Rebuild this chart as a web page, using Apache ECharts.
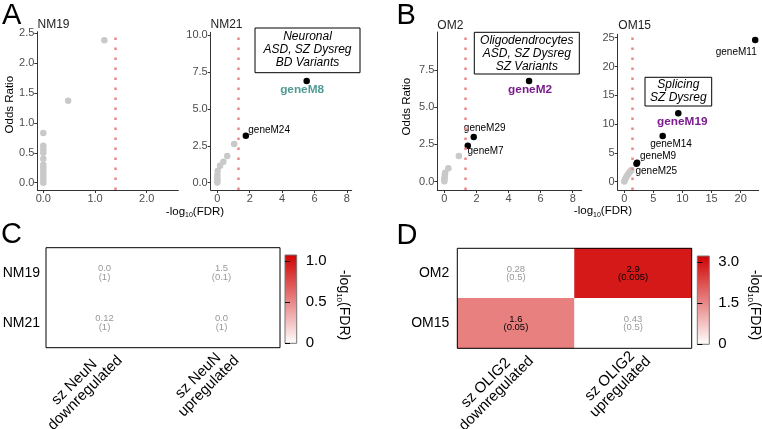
<!DOCTYPE html>
<html><head><meta charset="utf-8">
<script src="https://cdn.jsdelivr.net/npm/echarts@6/dist/echarts.min.js"></script>
<style>html,body{margin:0;padding:0;background:#fff}#c{width:762px;height:429px}</style>
</head><body><div id="c"></div>
<script>
const FONT = '"Liberation Sans", Arial, Helvetica, sans-serif';

// ---------- Panel A: NM19 ----------
const nm19Fdr  = [1.18, 0.48, 0, 0, 0, 0, 0, 0, 0, 0, 0, 0, 0, 0];
const nm19Or   = [2.38, 1.37, 0.83, 0.62, 0.56, 0.5, 0.4, 0.3, 0.25, 0.2, 0.15, 0.1, 0.05, 0.0];
const nm19Gene = ['', '', '', '', '', '', '', '', '', '', '', '', '', ''];
const nm19XTicks = [0, 1, 2];
const nm19YTicks = [0, 0.5, 1, 1.5, 2, 2.5];

// ---------- Panel A: NM21 ----------
const nm21Fdr  = [5.52, 1.76, 1.04, 0.61, 0.37, 0.17, 0.02, 0.0, 0.0, 0.0, 0.0];
const nm21Or   = [6.88, 3.18, 2.62, 1.81, 1.42, 1.15, 0.8, 0.5, 0.3, 0.15, 0.02];
const nm21Gene = ['geneM8', 'geneM24', '', '', '', '', '', '', '', '', ''];
const nm21XTicks = [0, 2, 4, 6, 8];
const nm21YTicks = [0, 2.5, 5, 7.5, 10];

// ---------- Panel B: OM2 ----------
const om2Fdr  = [5.28, 1.83, 1.46, 0.9, 0.25, 0.05, 0.03, 0.02, 0.0, 0.0];
const om2Or   = [6.76, 3.0, 2.42, 1.72, 0.9, 0.6, 0.45, 0.3, 0.15, 0.03];
const om2Gene = ['geneM2', 'geneM29', 'geneM7', '', '', '', '', '', '', ''];
const om2XTicks = [0, 2, 4, 6, 8];
const om2YTicks = [0, 2.5, 5, 7.5];

// ---------- Panel B: OM15 ----------
const om15Fdr  = [22.5, 9.28, 6.6, 2.2, 2.1, 1.2, 1.0, 0.8, 0.6, 0.4, 0.25, 0.1, 0.0];
const om15Or   = [24.6, 11.87, 7.93, 3.3, 3.1, 2.0, 1.75, 1.5, 1.2, 0.9, 0.6, 0.3, 0.02];
const om15Gene = ['geneM11', 'geneM19', 'geneM14', 'geneM9', 'geneM25', '', '', '', '', '', '', '', ''];
const om15XTicks = [0, 5, 10, 15, 20];
const om15YTicks = [0, 5, 10, 15, 20, 25];

// FDR thresholds (dotted lines)
const thresholds = [1.4, 1.3, 1.3, 1.3];

// ---------- Panel C heatmap ----------
const cRows = ['NM19', 'NM21'];
const cCols = ['sz NeuN\ndownregulated', 'sz NeuN\nupregulated'];
const cValue = [[0.0, 1.5], [0.12, 0.0]];
const cFdr   = [[1, 0.1], [1, 1]];
const cScaleMax = 1.073;
const cBarTicks = [0, 0.5, 1.0];

// ---------- Panel D heatmap ----------
const dRows = ['OM2', 'OM15'];
const dCols = ['sz OLIG2\ndownregulated', 'sz OLIG2\nupregulated'];
const dValue = [[0.28, 2.9], [1.6, 0.43]];
const dFdr   = [[0.5, 0.005], [0.05, 0.5]];
const dScaleMax = 3.21;
const dBarTicks = [0, 1.5, 3.0];

// ---------- styling (not data) ----------
const geneLabelOffset = {
  geneM8: [-4.6, 8.6], geneM24: [23.3, -5], geneM2: [1, 8.6], geneM29: [11, -8.7],
  geneM7: [17.8, 6], geneM11: [-19, 12.3], geneM19: [4, 8.6], geneM14: [8.3, 8],
  geneM9: [21, -6.8], geneM25: [19.8, 7.9]
};
const geneHighlight = { geneM8: '#4f9b92', geneM2: '#7b1b8e', geneM19: '#7b1b8e' };

const panels = [
  { fdr: nm19Fdr, or: nm19Or, gene: nm19Gene, xt: nm19XTicks, yt: nm19YTicks, xd: 1, yd: 1,
    grid: { left: 37.3, top: 31.7, width: 141, height: 158.3 }, xr: [-0.116, 2.61], yr: [-0.122, 2.525] },
  { fdr: nm21Fdr, or: nm21Or, gene: nm21Gene, xt: nm21XTicks, yt: nm21YTicks, xd: 0, yd: 1,
    grid: { left: 210.7, top: 32.3, width: 141, height: 157.7 }, xr: [-0.41, 8.3], yr: [-0.494, 10.18] },
  { fdr: om2Fdr, or: om2Or, gene: om2Gene, xt: om2XTicks, yt: om2YTicks, xd: 0, yd: 1,
    grid: { left: 437.3, top: 32, width: 144.4, height: 158 }, xr: [-0.44, 8.56], yr: [-0.557, 10.05] },
  { fdr: om15Fdr, or: om15Or, gene: om15Gene, xt: om15XTicks, yt: om15YTicks, xd: 0, yd: 0,
    grid: { left: 617.7, top: 34.3, width: 141, height: 155.7 }, xr: [-1.13, 23.1], yr: [-1.44, 25.59] }
];

const grids = [], xAxes = [], yAxes = [], series = [];

function valAxis(gi, min, max, ticks, dec) {
  return {
    type: 'value', gridIndex: gi, min: min, max: max, splitLine: { show: false },
    axisLine: { show: true, onZero: false, lineStyle: { color: '#333', width: 1 } },
    axisTick: { show: true, length: 3, lineStyle: { color: '#333' }, customValues: ticks },
    axisLabel: { show: true, customValues: ticks, formatter: v => Number(v).toFixed(dec),
      color: '#4d4d4d', fontSize: 11, fontFamily: FONT, margin: 3 }
  };
}

panels.forEach((p, i) => {
  grids.push(Object.assign({ outerBoundsMode: 'none', containLabel: false }, p.grid));
  xAxes.push(valAxis(i, p.xr[0], p.xr[1], p.xt, p.xd));
  yAxes.push(valAxis(i, p.yr[0], p.yr[1], p.yt, p.yd));
  const grey = [], black = [];
  p.fdr.forEach((x, k) => {
    const g = p.gene[k];
    if (x > thresholds[i]) {
      const item = { value: [x, p.or[k]] };
      if (g) {
        const hl = geneHighlight[g];
        item.label = {
          show: true, formatter: g, position: 'inside', offset: geneLabelOffset[g],
          color: hl || '#000', fontSize: hl ? 11.8 : 10, fontWeight: hl ? 'bold' : 'normal',
          fontFamily: FONT, textBorderWidth: 0
        };
      }
      black.push(item);
    } else {
      grey.push([x, p.or[k]]);
    }
  });
  series.push({
    type: 'scatter', xAxisIndex: i, yAxisIndex: i, symbolSize: 6.5, data: grey,
    itemStyle: { color: '#c9c9c9', opacity: 1 }, silent: true,
    markLine: { silent: true, symbol: 'none', label: { show: false },
      lineStyle: { color: '#e98b8b', type: [2.5, 7.5], width: 2.5, cap: 'butt' },
      data: [{ xAxis: thresholds[i] }] }
  });
  series.push({
    type: 'scatter', xAxisIndex: i, yAxisIndex: i, symbolSize: 6.5, data: black,
    itemStyle: { color: '#000', opacity: 1 }, silent: true, z: 3
  });
});

// measure label widths for centred multi-line rotated labels
const mctx = document.createElement('canvas').getContext('2d');
mctx.font = '15px ' + FONT;
const rich = {};
const allCols = cCols.concat(dCols);
allCols.forEach((c, k) => {
  const w = Math.max(...c.split('\n').map(s => mctx.measureText(s).width));
  rich['r' + k] = { width: Math.ceil(w) + 1, align: 'center', fontSize: 15, fontFamily: FONT, color: '#000', lineHeight: 15 };
});

function heatmap(gi, rows, cols, vals, fdrs, gridRect, colOffset, labelMargin) {
  grids.push(Object.assign({ outerBoundsMode: 'none', containLabel: false, show: true, z: 5,
    backgroundColor: 'transparent', borderColor: '#000', borderWidth: 1 }, gridRect));
  xAxes.push({
    type: 'category', gridIndex: gi, data: cols, position: 'bottom',
    axisLine: { show: false }, axisTick: { show: false }, splitLine: { show: false },
    axisLabel: { interval: 0, rotate: 45, align: 'right', verticalAlign: 'top', margin: -6,
      formatter: (v, idx) => v.split('\n').map(s => '{r' + (colOffset + idx) + '|' + s + '}').join('\n'),
      rich: rich }
  });
  yAxes.push({
    type: 'category', gridIndex: gi, data: rows, inverse: true,
    axisLine: { show: false }, axisTick: { show: false }, splitLine: { show: false },
    axisLabel: { color: '#000', fontSize: 14, fontFamily: FONT, margin: labelMargin }
  });
  const data = [];
  rows.forEach((r, ri) => cols.forEach((c, ci) => {
    const sig = fdrs[ri][ci] <= 0.05;
    data.push({ value: [ci, ri, sig ? vals[ri][ci] : 0, vals[ri][ci], fdrs[ri][ci]],
      label: { color: sig ? '#000' : '#999' } });
  }));
  series.push({
    type: 'heatmap', xAxisIndex: gi, yAxisIndex: gi, data: data, silent: true,
    itemStyle: { borderWidth: 0 },
    label: { show: true, fontSize: 9.5, lineHeight: 8.5, fontFamily: FONT,
      formatter: p => (p.value[3] === 0 ? '0.0' : String(p.value[3])) + '\n(' + String(p.value[4]) + ')' }
  });
  return series.length - 1;
}

const cIdx = heatmap(4, cRows, cCols, cValue, cFdr, { left: 46, top: 247.7, width: 234, height: 100 }, 0, 6);
const dIdx = heatmap(5, dRows, dCols, dValue, dFdr, { left: 457.3, top: 248.3, width: 234.4, height: 100 }, 2, 8);

function colorbar(gi, rect, max, ticks) {
  grids.push(Object.assign({ outerBoundsMode: 'none', containLabel: false, show: true,
    borderColor: '#777', borderWidth: 1,
    backgroundColor: new echarts.graphic.LinearGradient(0, 0, 0, 1, [
      { offset: 0, color: '#d00000' }, { offset: 1, color: '#ffffff' }]) }, rect));
  xAxes.push({ type: 'value', gridIndex: gi, show: false, min: 0, max: 1 });
  yAxes.push({
    type: 'value', gridIndex: gi, min: 0, max: max, position: 'right', splitLine: { show: false },
    axisLine: { show: false },
    axisTick: { show: true, length: 5, customValues: ticks, lineStyle: { color: '#000' } },
    axisLabel: { show: true, customValues: ticks, formatter: v => (v === 0 ? '0' : Number(v).toFixed(1)),
      color: '#000', fontSize: 15, fontFamily: FONT, margin: 9 }
  });
  series.push({ type: 'scatter', xAxisIndex: gi, yAxisIndex: gi, data: [] });
}
colorbar(6, { left: 285, top: 255, width: 11.7, height: 88.3 }, cScaleMax, cBarTicks);
colorbar(7, { left: 697.3, top: 256, width: 12, height: 88.3 }, dScaleMax, dBarTicks);

function txt(x, y, text, o) {
  return { type: 'text', x: x, y: y, rotation: (o && o.rot) || 0, z: 50, silent: true,
    style: Object.assign({ text: text, fontFamily: FONT, fontSize: 12, fill: '#000',
      align: 'left', verticalAlign: 'middle' }, (o && o.style) || {}) };
}
function subText(x, y, main, sub, rot) {
  return { type: 'text', x: x, y: y, rotation: rot || 0, z: 50, silent: true,
    style: { text: '{m|-log}{s|10}{m|(FDR)}', align: 'center', verticalAlign: 'middle',
      rich: {
        m: { fontFamily: FONT, fontSize: main, fill: '#000', lineHeight: main + 3 },
        s: { fontFamily: FONT, fontSize: sub, fill: '#000', lineHeight: sub - 1, verticalAlign: 'bottom' }
      } } };
}
function box(x, y, w, h, lines, cx, cy) {
  return { type: 'group', z: 40, silent: true, children: [
    { type: 'rect', shape: { x: x, y: y, width: w, height: h }, style: { fill: '#fff', stroke: '#000', lineWidth: 1 } },
    { type: 'text', x: cx, y: cy, style: { text: lines.join('\n'), fontFamily: FONT, fontSize: 12,
      fontStyle: 'italic', fill: '#000', align: 'center', verticalAlign: 'middle', lineHeight: 13.2 } }
  ] };
}

const graphics = [
  txt(2, 16, 'A', { style: { fontSize: 29 } }),
  txt(396.5, 15.5, 'B', { style: { fontSize: 29 } }),
  txt(1, 235, 'C', { style: { fontSize: 29 } }),
  txt(396.5, 236, 'D', { style: { fontSize: 29 } }),
  txt(37.5, 25, 'NM19', { style: { fill: '#222' } }),
  txt(210.5, 25, 'NM21', { style: { fill: '#222' } }),
  txt(437.3, 25.7, 'OM2', { style: { fill: '#222' } }),
  txt(618.3, 26, 'OM15', { style: { fill: '#222' } }),
  txt(10, 104.7, 'Odds Ratio', { rot: Math.PI / 2, style: { align: 'center', fontSize: 11.5 } }),
  txt(406.7, 106.7, 'Odds Ratio', { rot: Math.PI / 2, style: { align: 'center', fontSize: 11.5 } }),
  subText(195, 211.5, 11.5, 7),
  subText(603, 211, 11.5, 7),
  subText(343.5, 305, 14, 8, -Math.PI / 2),
  subText(755, 305, 14, 8, -Math.PI / 2),
  box(255, 28, 105, 44.7, ['Neuronal', 'ASD, SZ Dysreg', 'BD Variants'], 307.5, 49.6),
  box(474.3, 32.3, 105, 41.7, ['Oligodendrocytes', 'ASD, SZ Dysreg', 'SZ Variants'], 526.8, 53.4),
  box(645, 77.3, 66.7, 28.7, ['Splicing', 'SZ Dysreg'], 678.3, 91)
];

const chart = echarts.init(document.getElementById('c'), null, { renderer: 'canvas', width: 762, height: 429 });
chart.setOption({
  animation: false,
  backgroundColor: '#ffffff',
  textStyle: { fontFamily: FONT },
  grid: grids,
  xAxis: xAxes,
  yAxis: yAxes,
  visualMap: [
    { type: 'continuous', show: false, seriesIndex: cIdx, dimension: 2, min: 0, max: cScaleMax,
      inRange: { color: ['#ffffff', '#d00000'] } },
    { type: 'continuous', show: false, seriesIndex: dIdx, dimension: 2, min: 0, max: dScaleMax,
      inRange: { color: ['#ffffff', '#d00000'] } }
  ],
  series: series,
  graphic: graphics
});
</script>
</body></html>
